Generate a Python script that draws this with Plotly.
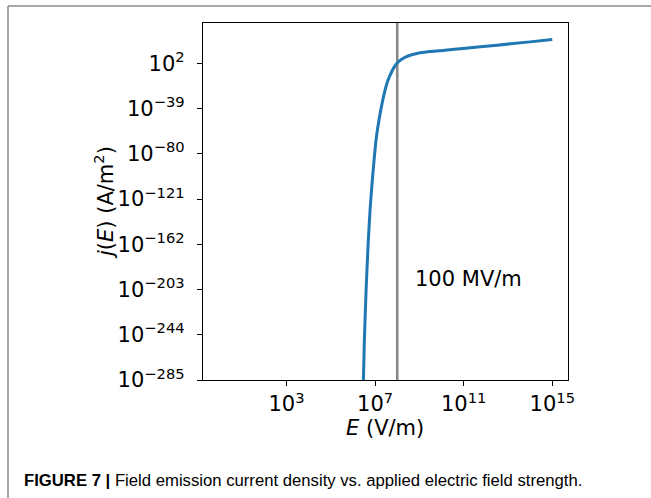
import plotly.graph_objects as go

# Curve: log10(E [V/m]) and log10(j [A/m^2])
log_E = [6.441, 6.472, 6.517, 6.594, 6.684, 6.774, 6.887, 7.027, 7.104, 7.176, 7.257,
         7.347, 7.451, 7.586, 7.744, 7.898, 8.006, 8.218, 8.489, 8.94, 9.48, 10.16,
         10.97, 12.50, 13.99, 15.0]
log_j = [-298.6, -285.0, -248.7, -203.4, -162.7, -130.9, -101.0, -70.2, -58.4, -49.4,
         -40.3, -31.3, -22.2, -13.2, -5.9, -0.4, 2.5, 5.9, 8.6, 11.1, 12.6, 13.8,
         15.4, 18.4, 21.4, 23.6]

E_vals = [10 ** v for v in log_E]
j_vals = [10 ** v for v in log_j]

marker_E = 1e8
marker_label = "100 MV/m"

x_tick_exp = [3, 7, 11, 15]
y_tick_exp = [2, -39, -80, -121, -162, -203, -244, -285]

caption_bold = "FIGURE 7 |"
caption_text = " Field emission current density vs. applied electric field strength."

W, H = 651, 498
L, R, T, B = 203, 568, 23, 380
pw, ph = R - L, B - T

def px(x):
    return (x - L) / pw

def py(y):
    return (B - y) / ph

fig = go.Figure()
fig.add_trace(go.Scatter(x=E_vals, y=j_vals, mode="lines",
                         line=dict(color="#1f77b4", width=3, shape="spline", smoothing=0.6),
                         showlegend=False))

fig.add_shape(type="line", xref="x", yref="paper", x0=marker_E, x1=marker_E, y0=0, y1=1,
              line=dict(color="#888888", width=2.6), layer="below")

font_tick = dict(family="DejaVu Sans", size=21, color="black")

def sup(e):
    return f"10<sup>\u2212{-e}</sup>" if e < 0 else f"10<sup>{e}</sup>"

fig.update_layout(
    width=W, height=H,
    margin=dict(l=L, r=W - R, t=T, b=H - B),
    paper_bgcolor="white", plot_bgcolor="white",
    xaxis=dict(type="log", range=[-0.77, 15.71],
               tickvals=[10 ** e for e in x_tick_exp],
               ticktext=[sup(e) for e in x_tick_exp],
               ticks="outside", ticklen=5, tickwidth=1.2, tickcolor="black",
               showline=True, linecolor="black", linewidth=1.3, mirror=True,
               showgrid=False, zeroline=False, tickfont=font_tick, ticklabelstandoff=0),
    yaxis=dict(type="log", range=[-285, 38.5],
               tickvals=[10.0 ** e for e in y_tick_exp],
               ticktext=[sup(e) for e in y_tick_exp],
               ticks="outside", ticklen=5, tickwidth=1.2, tickcolor="black",
               showline=True, linecolor="black", linewidth=1.3, mirror=True,
               showgrid=False, zeroline=False, tickfont=font_tick, ticklabelstandoff=8),
)

fig.add_annotation(x=px(413), y=py(279), xref="paper", yref="paper", text=marker_label,
                   showarrow=False, xanchor="left", yanchor="middle",
                   font=dict(family="DejaVu Sans", size=21, color="black"))

fig.add_annotation(x=px(385), y=py(428), xref="paper", yref="paper",
                   text="<i>E</i> (V/m)", showarrow=False, xanchor="center", yanchor="middle",
                   font=dict(family="DejaVu Sans", size=21, color="black"))

fig.add_annotation(x=px(104), y=py(203), xref="paper", yref="paper",
                   text="<i>j</i>(<i>E</i>) (A/m<sup>2</sup>)", showarrow=False, textangle=-90,
                   xanchor="center", yanchor="middle",
                   font=dict(family="DejaVu Sans", size=21, color="black"))

fig.add_annotation(x=px(22), y=py(481), xref="paper", yref="paper",
                   text=f"<b>{caption_bold}</b>{caption_text}", showarrow=False,
                   xanchor="left", yanchor="middle",
                   font=dict(family="Liberation Sans Narrow, Liberation Sans", size=16.7, color="black"))

# outer frame lines (top and left)
fig.add_shape(type="line", xref="paper", yref="paper", x0=px(8), x1=px(W + 5), y0=py(6), y1=py(6),
              line=dict(color="#8a8a8a", width=1.5))
fig.add_shape(type="line", xref="paper", yref="paper", x0=px(8), x1=px(8), y0=py(6), y1=py(H + 5),
              line=dict(color="#8a8a8a", width=1.5))

fig.write_html("out.html")
